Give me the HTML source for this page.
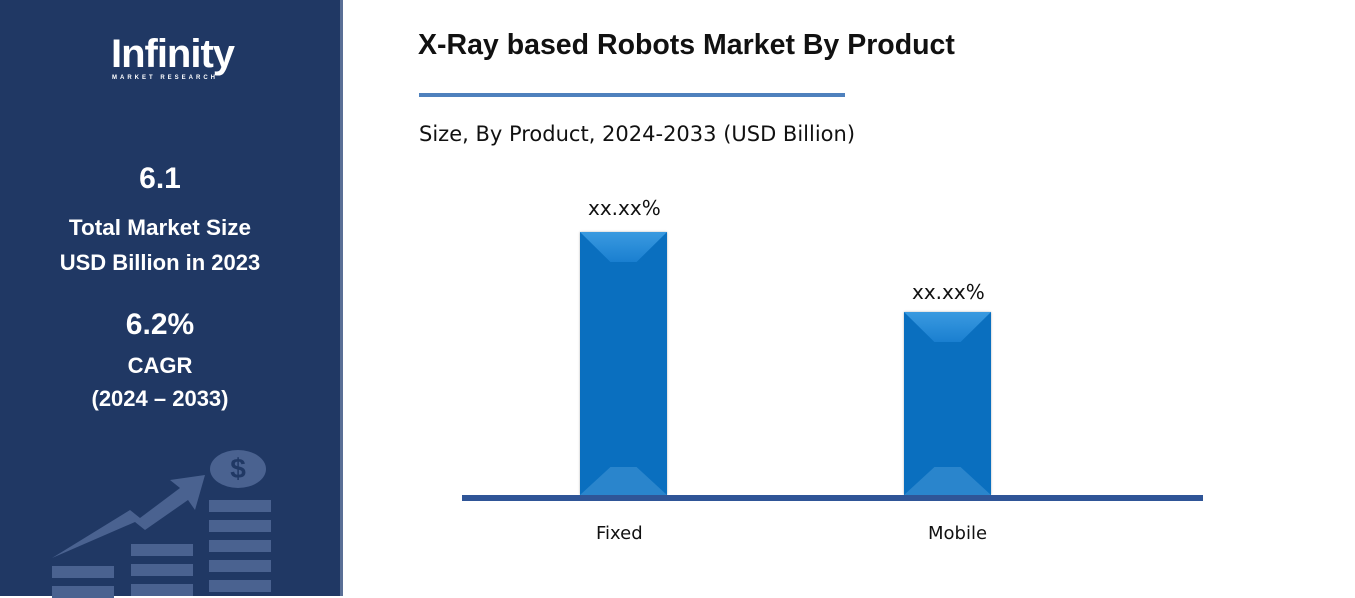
<!DOCTYPE html>
<html><head><meta charset="utf-8"><style>
*{margin:0;padding:0;box-sizing:border-box}
body{width:1355px;height:596px;background:#fff;position:relative;overflow:hidden;font-family:"Liberation Sans",sans-serif}
.side{position:absolute;left:0;top:0;width:343px;height:596px;background:#203864;border-right:3px solid #5a6f96}
.c{position:absolute;left:0;width:320px;text-align:center;color:#fff;font-weight:bold}
.t{position:absolute;font-family:"DejaVu Sans",sans-serif}
.bar{position:absolute;background:#0a6fbf;box-shadow:0 0 2px rgba(0,0,0,.3)}
.bar .tp{position:absolute;left:0;top:0;width:100%;height:30px;background:linear-gradient(#3a9ae0,#1a7fd0);clip-path:polygon(0 0,100% 0,65% 100%,35% 100%)}
.bar .bt{position:absolute;left:0;bottom:0;width:100%;height:28px;background:#2a85cc;clip-path:polygon(35% 0,65% 0,100% 100%,0 100%)}
.st{position:absolute;background:#4a6290}
</style></head><body>
<div class="side">
 <div class="c" style="top:32px;font-size:40px;letter-spacing:-1px;left:0;width:345px">Infinity</div>
 <div class="c" style="top:75px;font-size:6px;letter-spacing:3px;width:330px">MARKET RESEARCH</div>
 <div class="c" style="top:162px;font-size:30px">6.1</div>
 <div class="c" style="top:215px;font-size:22.5px">Total Market Size</div>
 <div class="c" style="top:250px;font-size:22px">USD Billion in 2023</div>
 <div class="c" style="top:308px;font-size:30px">6.2%</div>
 <div class="c" style="top:353px;font-size:22px">CAGR</div>
 <div class="c" style="top:386px;font-size:22px">(2024 – 2033)</div>
 <div style="position:absolute;left:210px;top:450px;width:56px;height:38px;border-radius:50%;background:#4a6290;color:#203864;font-weight:bold;font-size:28px;text-align:center;line-height:38px">$</div>
 <svg style="position:absolute;left:50px;top:470px" width="160" height="90"><polygon points="2,88 80,40 90,48 130,18 120,10 155,5 145,40 138,30 95,60 85,52" fill="#4a6290"/></svg>
 <div class="st" style="left:209px;top:500px;width:62px;height:12px"></div>
 <div class="st" style="left:209px;top:520px;width:62px;height:12px"></div>
 <div class="st" style="left:209px;top:540px;width:62px;height:12px"></div>
 <div class="st" style="left:209px;top:560px;width:62px;height:12px"></div>
 <div class="st" style="left:209px;top:580px;width:62px;height:12px"></div>
 <div class="st" style="left:131px;top:544px;width:62px;height:12px"></div>
 <div class="st" style="left:131px;top:564px;width:62px;height:12px"></div>
 <div class="st" style="left:131px;top:584px;width:62px;height:12px"></div>
 <div class="st" style="left:52px;top:566px;width:62px;height:12px"></div>
 <div class="st" style="left:52px;top:586px;width:62px;height:12px"></div>
</div>
<div class="t" style="left:418px;top:29px;font-size:28.5px;font-weight:bold;font-family:'Liberation Sans',sans-serif;color:#111">X-Ray based Robots Market By Product</div>
<div style="position:absolute;left:419px;top:93px;width:426px;height:4px;background:#4f81bd"></div>
<div class="t" style="left:419px;top:122px;font-size:21px;color:#111">Size, By Product, 2024-2033 (USD Billion)</div>
<div class="t" style="left:588px;top:196px;font-size:20px;color:#111">xx.xx%</div>
<div class="t" style="left:912px;top:280px;font-size:20px;color:#111">xx.xx%</div>
<div class="bar" style="left:580px;top:232px;width:87px;height:263px"><div class="tp"></div><div class="bt"></div></div>
<div class="bar" style="left:904px;top:312px;width:87px;height:183px"><div class="tp"></div><div class="bt"></div></div>
<div style="position:absolute;left:462px;top:495px;width:741px;height:6px;background:#2f5597"></div>
<div class="t" style="left:596px;top:523px;font-size:18px;color:#111">Fixed</div>
<div class="t" style="left:928px;top:523px;font-size:18px;color:#111">Mobile</div>
</body></html>
